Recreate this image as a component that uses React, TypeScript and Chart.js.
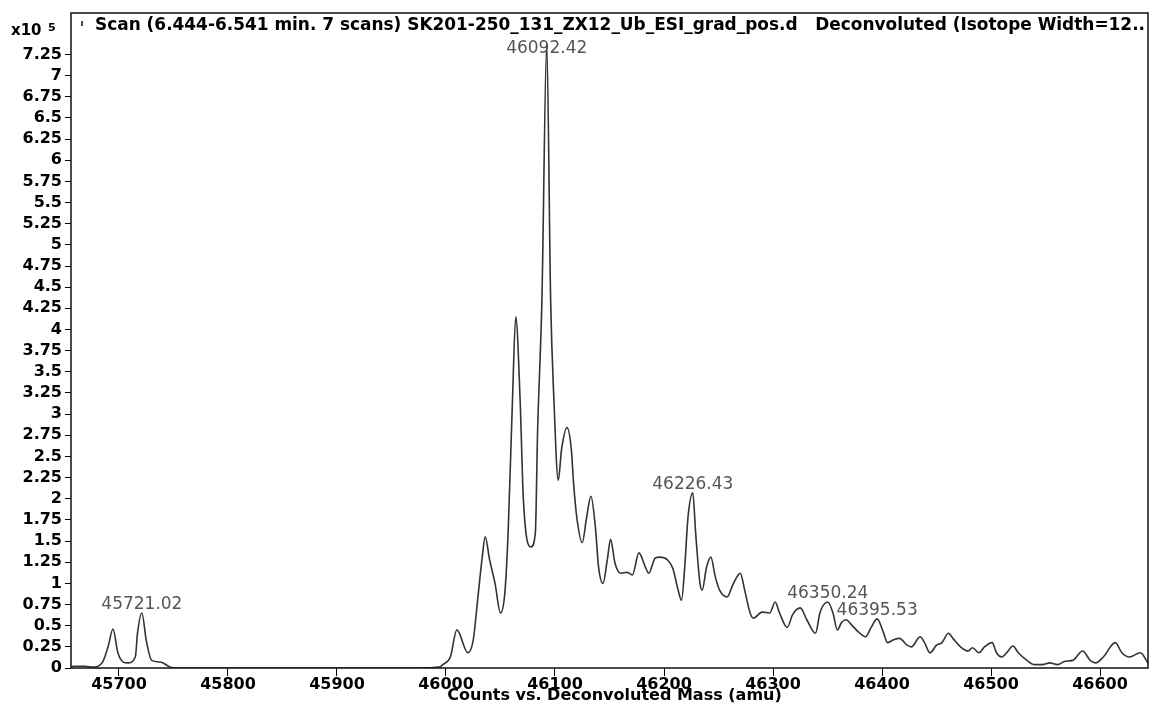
import React, { useEffect, useRef } from "react";
import { Chart, registerables } from "chart.js";

Chart.register(...registerables);

const masses = [
  45656, 45658, 45669, 45676, 45685, 45690, 45694.5, 45699, 45704, 45708,
  45715, 45717, 45721.02, 45725, 45730, 45738, 45747, 45751, 45800, 45900,
  45976, 45994, 45997, 46004, 46010, 46020, 46025, 46029, 46033, 46036,
  46040, 46045, 46050, 46054, 46057, 46061, 46064, 46068, 46071, 46078,
  46082, 46084, 46088, 46092.42, 46096, 46099, 46103, 46106, 46111, 46115,
  46117, 46120, 46125, 46129, 46133, 46137, 46140, 46144, 46148, 46151,
  46155, 46160, 46166, 46171, 46177, 46183, 46186, 46192, 46196, 46203,
  46208, 46213, 46216, 46219, 46222, 46226.43, 46229, 46233, 46235, 46239,
  46243, 46247, 46251, 46258, 46263, 46270, 46274, 46279, 46282, 46290,
  46297, 46302, 46306, 46313, 46318, 46325, 46331, 46339, 46343, 46350.24,
  46355, 46359, 46363, 46367, 46372, 46378, 46385, 46390, 46395.53, 46401,
  46405, 46410, 46416, 46423, 46427, 46435, 46439, 46444, 46450, 46455,
  46461, 46465, 46472, 46479, 46483, 46489, 46494, 46501, 46505, 46510,
  46515, 46520, 46525, 46533, 46540, 46547, 46554, 46561, 46568, 46575,
  46584, 46591, 46596, 46603, 46614, 46620, 46627, 46637, 46644,
];

const intensities = [
  0, 0.02, 0.02, 0.01, 0.07, 0.25, 0.46, 0.18, 0.07, 0.06,
  0.13, 0.41, 0.65, 0.33, 0.09, 0.07, 0.01, 0, 0, 0,
  0, 0.01, 0.04, 0.13, 0.45, 0.18, 0.33, 0.8, 1.28, 1.55,
  1.28, 1.0, 0.65, 0.89, 1.6, 3.17, 4.15, 3.17, 1.99, 1.43,
  1.6, 2.78, 4.35, 7.38, 4.35, 3.17, 2.22, 2.58, 2.84, 2.58,
  2.19, 1.78, 1.48, 1.78, 2.03, 1.67, 1.19, 1.0, 1.28, 1.52,
  1.24, 1.12, 1.13, 1.1, 1.36, 1.19, 1.12, 1.3, 1.31, 1.28,
  1.18, 0.92, 0.8, 1.19, 1.78, 2.07, 1.6, 1.0, 0.92, 1.19,
  1.31, 1.08, 0.92, 0.84, 0.98, 1.12, 0.92, 0.65, 0.59, 0.66,
  0.65, 0.78, 0.65, 0.48, 0.63, 0.71, 0.57, 0.41, 0.65, 0.78,
  0.65, 0.45, 0.54, 0.57, 0.51, 0.43, 0.37, 0.48, 0.58, 0.43,
  0.3, 0.33, 0.35, 0.27, 0.25, 0.37, 0.3, 0.18, 0.27, 0.3,
  0.41, 0.35, 0.25, 0.2, 0.24, 0.18, 0.25, 0.3, 0.18, 0.13,
  0.19, 0.26, 0.18, 0.09, 0.04, 0.04, 0.06, 0.04, 0.08, 0.09,
  0.2, 0.09, 0.06, 0.13, 0.3, 0.18, 0.13, 0.18, 0.06,
];

const peakMasses = [45721.02, 46092.42, 46226.43, 46350.24, 46395.53];
const peakIntensities = [0.65, 7.38, 2.07, 0.78, 0.58];
const peakLabels = ["45721.02", "46092.42", "46226.43", "46350.24", "46395.53"];

const xMin = 45656;
const xMax = 46644;
const yMax = 7.74;
const yTickTop = 7.25;

const titleText =
  "Scan (6.444-6.541 min. 7 scans) SK201-250_131_ZX12_Ub_ESI_grad_pos.d   Deconvoluted (Isotope Width=12..";
const xTitle = "Counts vs. Deconvoluted Mass (amu)";

const FONT = '"DejaVu Sans", "Liberation Sans", Arial, sans-serif';

const decorPlugin = {
  id: "decor",
  afterDraw(chart: any) {
    const { ctx, chartArea: a, scales } = chart;
    ctx.save();
    // frame
    ctx.strokeStyle = "#111";
    ctx.lineWidth = 1.5;
    ctx.strokeRect(a.left, a.top, a.right - a.left, a.bottom - a.top);

    // title
    ctx.fillStyle = "#000";
    ctx.textBaseline = "middle";
    ctx.textAlign = "left";
    ctx.font = `bold 17px ${FONT}`;
    ctx.fillText(titleText, a.left + 24, a.top + 13, a.right - a.left - 27);
    // small marker before title
    ctx.beginPath();
    ctx.lineWidth = 1.5;
    ctx.moveTo(a.left + 11, a.top + 8);
    ctx.lineTo(a.left + 11, a.top + 13);
    ctx.stroke();

    // exponent
    ctx.font = `bold 15px ${FONT}`;
    ctx.fillText("x10", 11, a.top + 18);
    ctx.font = `bold 11px ${FONT}`;
    ctx.fillText("5", 48, a.top + 15);

    // x axis title
    ctx.font = `bold 16px ${FONT}`;
    ctx.textAlign = "center";
    ctx.fillText(xTitle, (a.left + a.right) / 2 + 5, a.bottom + 28);

    // peak labels
    ctx.font = `17px ${FONT}`;
    ctx.fillStyle = "#555";
    ctx.textAlign = "center";
    ctx.textBaseline = "alphabetic";
    peakMasses.forEach((m, i) => {
      const px = scales.x.getPixelForValue(m);
      let py = scales.y.getPixelForValue(peakIntensities[i]) - 4;
      if (py < a.top + 40) py = a.top + 40;
      ctx.fillText(peakLabels[i], px, py);
    });
    ctx.restore();
  },
};

export default function App() {
  const ref = useRef<HTMLCanvasElement | null>(null);
  useEffect(() => {
    if (!ref.current) return;
    const data = masses.map((m, i) => ({ x: m, y: intensities[i] }));
    const chart = new Chart(ref.current, {
      type: "line",
      data: {
        datasets: [
          {
            data,
            borderColor: "#333",
            borderWidth: 1.6,
            pointRadius: 0,
            fill: false,
            cubicInterpolationMode: "monotone",
          },
        ],
      },
      options: {
        animation: false,
        responsive: true,
        maintainAspectRatio: false,
        layout: { padding: { left: 0, top: 13, right: 2, bottom: 0 } },
        plugins: { legend: { display: false }, tooltip: { enabled: false } },
        scales: {
          x: {
            type: "linear",
            min: xMin,
            max: xMax,
            afterFit: (s: any) => {
              s.height = 36;
            },
            border: { display: false },
            grid: {
              drawOnChartArea: false,
              drawTicks: true,
              tickLength: 8,
              tickColor: "#000",
              lineWidth: 1,
            },
            ticks: {
              stepSize: 100,
              includeBounds: false,
              autoSkip: false,
              maxRotation: 0,
              padding: -1,
              color: "#000",
              font: { family: FONT, size: 16, weight: "bold" },
              callback: (v: any) => String(v),
            },
          },
          y: {
            type: "linear",
            min: 0,
            max: yMax,
            afterFit: (s: any) => {
              s.width = 71;
            },
            afterBuildTicks: (s: any) => {
              s.ticks = s.ticks.filter((t: any) => t.value <= yTickTop + 1e-9);
            },
            border: { display: false },
            grid: {
              drawOnChartArea: false,
              drawTicks: true,
              tickLength: 6,
              tickColor: "#000",
              lineWidth: 1,
            },
            ticks: {
              stepSize: 0.25,
              includeBounds: false,
              autoSkip: false,
              padding: 3,
              color: "#000",
              font: { family: FONT, size: 16, weight: "bold" },
              callback: (v: any) => String(Number(Number(v).toFixed(2))),
            },
          },
        },
      },
      plugins: [decorPlugin],
    });
    return () => chart.destroy();
  }, []);
  return (
    <div style={{ position: "fixed", left: 0, top: 0, width: 1150, height: 704, background: "#fff" }}>
      <canvas ref={ref} />
    </div>
  );
}
